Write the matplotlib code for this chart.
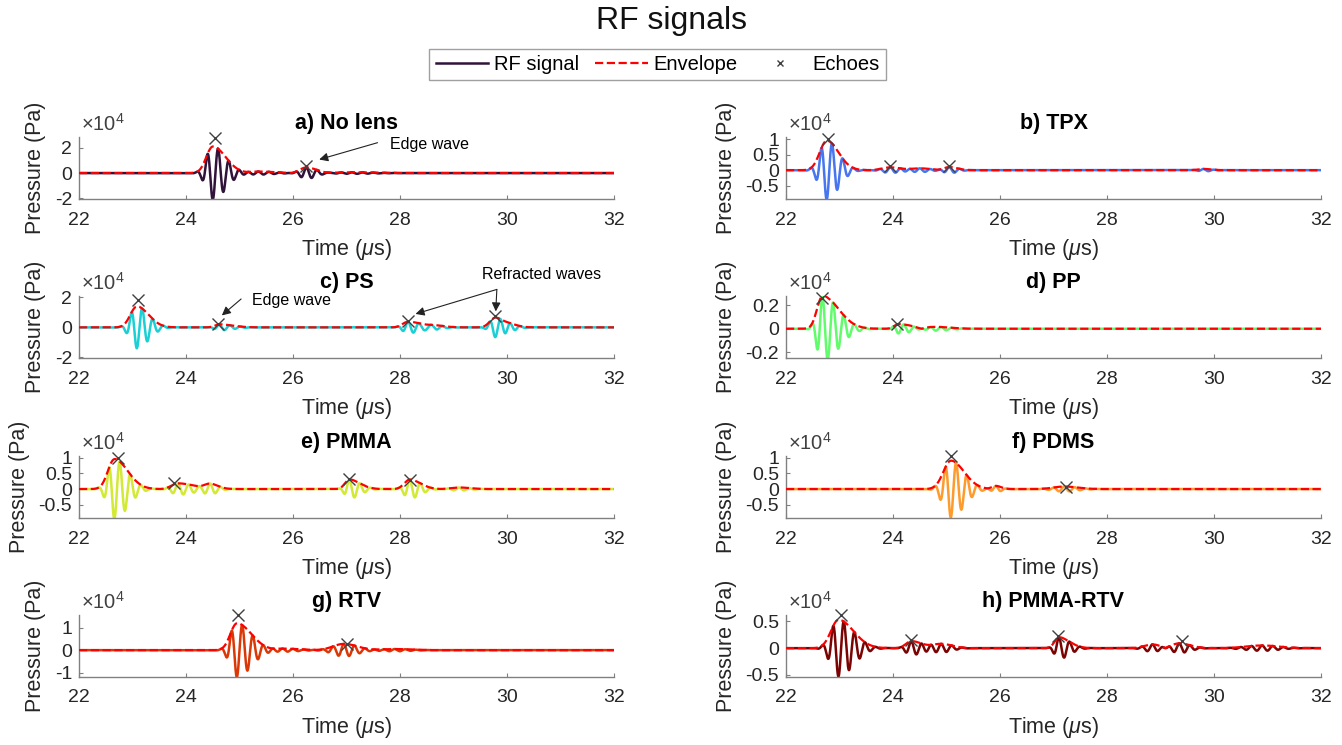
import numpy as np
import matplotlib.pyplot as plt
from matplotlib.ticker import FuncFormatter

plt.rcParams['font.family'] = ['Liberation Sans', 'DejaVu Sans']
plt.rcParams['mathtext.fontset'] = 'custom'
plt.rcParams['mathtext.rm'] = 'Liberation Sans'
plt.rcParams['mathtext.it'] = 'Liberation Sans:italic'
plt.rcParams['axes.unicode_minus'] = False

FC = 5.0                          # transducer centre frequency, MHz
t = np.linspace(22, 32, 5001)     # time, us

titles = ['a) No lens', 'b) TPX', 'c) PS', 'd) PP',
          'e) PMMA', 'f) PDMS', 'g) RTV', 'h) PMMA-RTV']

# wave packets: (arrival us, amplitude x1e4 Pa, rise us, decay us)
packets_a = [(24.50, -2.10, 0.12, 0.24), (26.25, 0.45, 0.12, 0.18),
             (25.35, 0.12, 0.20, 0.30), (27.10, 0.06, 0.30, 0.40)]
packets_b = [(22.76, -0.95, 0.13, 0.22), (23.95, 0.09, 0.15, 0.20),
             (24.50, 0.06, 0.20, 0.20), (25.05, 0.10, 0.10, 0.15),
             (29.80, 0.04, 0.10, 0.15)]
packets_c = [(23.08, -1.40, 0.12, 0.22), (24.62, 0.20, 0.08, 0.25),
             (28.15, 0.38, 0.10, 0.25), (28.60, 0.15, 0.15, 0.20),
             (29.78, -0.65, 0.10, 0.15), (30.05, 0.20, 0.10, 0.15)]
packets_d = [(22.68, 0.28, 0.10, 0.30), (24.10, -0.04, 0.08, 0.30),
             (24.70, 0.02, 0.20, 0.30)]
packets_e = [(22.66, -0.95, 0.12, 0.25), (23.85, 0.18, 0.12, 0.30),
             (24.45, 0.15, 0.10, 0.15), (27.05, 0.30, 0.08, 0.20),
             (28.18, 0.30, 0.10, 0.20), (29.10, 0.05, 0.15, 0.20)]
packets_f = [(25.08, -0.90, 0.14, 0.25), (25.92, 0.10, 0.08, 0.10),
             (27.20, 0.08, 0.20, 0.25)]
packets_g = [(24.95, -1.20, 0.12, 0.27), (25.80, 0.07, 0.20, 0.30),
             (26.95, 0.28, 0.20, 0.25), (27.90, 0.05, 0.30, 0.30)]
packets_h = [(22.98, -0.53, 0.14, 0.28), (24.34, 0.13, 0.10, 0.20),
             (24.90, 0.08, 0.20, 0.20), (27.10, 0.20, 0.08, 0.20),
             (28.85, 0.07, 0.15, 0.15), (29.35, 0.09, 0.15, 0.20),
             (30.90, 0.05, 0.30, 0.30)]

# detected echoes (time us, pressure x1e4 Pa)
echo_t = [[24.55, 26.25], [22.78, 23.95, 25.05],
          [23.10, 24.60, 28.15, 29.78], [22.68, 24.08],
          [22.73, 23.78, 27.04, 28.18], [25.08, 27.24],
          [24.98, 27.00], [23.02, 24.34, 27.08, 29.40]]
echo_p = [[2.75, 0.55], [1.02, 0.13, 0.13],
          [1.80, 0.25, 0.40, 0.75], [0.26, 0.04],
          [1.00, 0.20, 0.31, 0.30], [1.05, 0.08],
          [1.57, 0.27], [0.62, 0.16, 0.23, 0.14]]

ylims = [(-2.05, 2.85), (-0.93, 1.07), (-2.05, 2.1), (-0.25, 0.28),
         (-0.92, 1.05), (-0.92, 1.05), (-1.2, 1.57), (-0.54, 0.62)]
yticks = [[-2, 0, 2], [-0.5, 0, 0.5, 1], [-2, 0, 2], [-0.2, 0, 0.2],
          [-0.5, 0, 0.5, 1], [-0.5, 0, 0.5, 1], [-1, 0, 1], [-0.5, 0, 0.5]]
xticks = [22, 24, 26, 28, 30, 32]

all_packets = [packets_a, packets_b, packets_c, packets_d,
               packets_e, packets_f, packets_g, packets_h]


def rf_signal(packets):
    s = np.zeros_like(t)
    for t0, amp, rise, decay in packets:
        width = np.where(t < t0, rise, decay)
        s += amp * np.exp(-0.5 * ((t - t0) / width) ** 2) * np.cos(2 * np.pi * FC * (t - t0))
    return s


def envelope(x):
    # magnitude of the analytic signal (FFT hilbert)
    n = len(x)
    h = np.zeros(n)
    h[0] = 1
    if n % 2 == 0:
        h[n // 2] = 1
        h[1:n // 2] = 2
    else:
        h[1:(n + 1) // 2] = 2
    return np.abs(np.fft.ifft(np.fft.fft(x) * h))


colors = plt.cm.turbo(np.linspace(0, 1, 8))

fig = plt.figure(figsize=(13.42, 7.45), dpi=100)
W, H = 1342, 745
col_x = [79 / W, 786 / W]
row_bottom = [199, 358, 518, 677]
ax_w, ax_h = 535 / W, 62 / H

grey = '#808080'
txt = '#262626'
axes = []
handles = None
for i in range(8):
    r, c = divmod(i, 2)
    ax = fig.add_axes([col_x[c], 1 - row_bottom[r] / H, ax_w, ax_h])
    axes.append(ax)
    sig = rf_signal(all_packets[i])
    env = envelope(sig)
    l1, = ax.plot(t, sig, color=colors[i], lw=1.8, zorder=2)
    l2, = ax.plot(t, env, color='#ff0000', ls='--', lw=1.6, zorder=3)
    l3, = ax.plot(echo_t[i], echo_p[i], 'x', color='#404040', ms=9, mew=1.0,
                  clip_on=False, zorder=4)
    if i == 0:
        handles = [l1, l2, l3]

    ax.set_xlim(22, 32)
    ax.set_ylim(*ylims[i])
    ax.set_xticks(xticks)
    ax.set_yticks(yticks[i])
    ax.yaxis.set_major_formatter(FuncFormatter(lambda v, p: f'{v:g}'))
    for s in ['top', 'right']:
        ax.spines[s].set_visible(False)
    for s in ['left', 'bottom']:
        ax.spines[s].set_color(grey)
        ax.spines[s].set_linewidth(1.0)
    ax.tick_params(direction='in', length=3, width=0.8, color=grey,
                   labelcolor=txt, labelsize=14)
    ax.tick_params(axis='x', pad=9)
    ax.tick_params(axis='y', pad=5)
    ax.set_xlabel(r'Time ($\mu$s)', fontsize=15.5, color=txt, labelpad=6)
    ax.set_ylabel('Pressure (Pa)', fontsize=15.5, color=txt, labelpad=6)
    ax.set_title(titles[i], fontsize=15.5, fontweight='bold', pad=6)
    ax.text(0.004, 1.03, r'$\times10^{4}$', transform=ax.transAxes,
            ha='left', va='bottom', fontsize=14.5, color='#404040')

# annotations
arrow = dict(arrowstyle='-|>', color='#222222', lw=0.8, mutation_scale=13,
             shrinkA=0, shrinkB=0)
ax = axes[0]
ax.text(27.82, 2.27, 'Edge wave', fontsize=11.5, va='center', ha='left')
ax.annotate('', xy=(26.49, 1.07), xytext=(27.58, 2.4), arrowprops=arrow,
            annotation_clip=False)
ax = axes[2]
ax.text(25.23, 1.78, 'Edge wave', fontsize=11.5, va='center', ha='left')
ax.annotate('', xy=(24.67, 0.8), xytext=(25.03, 1.9), arrowprops=arrow,
            annotation_clip=False)
ax.text(29.53, 3.57, 'Refracted waves', fontsize=11.5, va='center', ha='left',
        clip_on=False)
ax.annotate('', xy=(28.29, 0.9), xytext=(29.81, 2.54), arrowprops=arrow,
            annotation_clip=False)
ax.annotate('', xy=(29.79, 1.07), xytext=(29.81, 2.54), arrowprops=arrow,
            annotation_clip=False)

fig.text(0.5, 1 - 21 / H, 'RF signals', ha='center', va='center',
         fontsize=23, color='#111111')
fig.legend(handles, ['RF signal', 'Envelope', 'Echoes'], loc='center',
           bbox_to_anchor=(657.5 / W, 1 - 64.5 / H), ncol=3, fancybox=False,
           edgecolor='#a0a0a0', framealpha=1, fontsize=14.5, handlelength=2.6,
           handletextpad=0.3, columnspacing=0.8, borderpad=0.3,
           markerscale=0.55)

plt.savefig('out.png', dpi=100)
